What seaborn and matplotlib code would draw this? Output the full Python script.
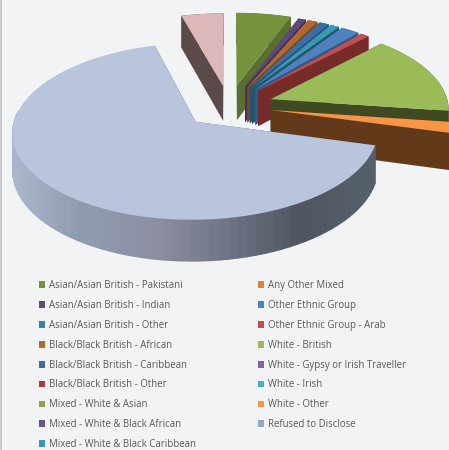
import numpy as np
import matplotlib
matplotlib.use("Agg")
import matplotlib.pyplot as plt
from matplotlib.patches import Patch
import seaborn as sns

# Ethnicity shares (percent) in pie order, clockwise from twelve o'clock
categories = [
    "Asian/Asian British - Pakistani", "Asian/Asian British - Indian",
    "Asian/Asian British - Other", "Black/Black British - African",
    "Black/Black British - Caribbean", "Black/Black British - Other",
    "Mixed - White & Asian", "Mixed - White & Black African",
    "Mixed - White & Black Caribbean", "Any Other Mixed",
    "Other Ethnic Group", "Other Ethnic Group - Arab", "White - British",
    "White - Gypsy or Irish Traveller", "White - Irish", "White - Other",
    "Refused to Disclose",
]
shares = [5.6, 0.8, 0.0, 1.0, 1.0, 0.0, 0.0, 0.0, 0.9, 0.0, 1.9, 0.9,
          15.0, 0.0, 0.0, 2.0, 66.2]
# Final slice has no entry in the key
unlisted_share = 4.3

top_colors = ["#76923C", "#5F497A", "#31849B", "#B3682E", "#3A6EA5", "#A83C3A",
              "#8AA548", "#6C5390", "#3A9AB5", "#E0823A", "#4F81BD", "#C0504D",
              "#9BBB59", "#8064A2", "#4BACC6", "#F79646", "#B8C5DC"]
wall_colors = ["#5A6E30", "#3F3066", "#20606F", "#7F4A20", "#2A5080", "#772C2A",
               "#4F6128", "#403152", "#215968", "#974806", "#2F5A90", "#772C2A",
               "#3F4A22", "#403152", "#215968", "#633A19", "#5A6470"]
key_colors = ["#76923C", "#5F497A", "#31849B", "#B3682E", "#3A6EA5", "#A83C3A",
              "#8AA548", "#6C5390", "#3A9AB5", "#E0823A", "#4F81BD", "#C0504D",
              "#9BBB59", "#8064A2", "#4BACC6", "#F79646", "#95A9D0"]
unlisted_top = "#DDB8B8"
unlisted_wall = "#5B4A4A"
explode = [0.26, 0.25, 0.25, 0.25, 0.25, 0.25, 0.25, 0.25, 0.25, 0.25, 0.25,
           0.25, 0.25, 0.2, 0.2, 0.24, 0.26]
unlisted_explode = 0.25

BACKGROUND = "#F1F3F5"
rim_gradient = ["#ABB7CB", "#8F9BAE", "#8E90A4", "#6F7686", "#4F5560", "#55606C"]

sns.set_theme(style="white", rc={"figure.facecolor": BACKGROUND,
                                 "axes.facecolor": BACKGROUND})
plt.rcParams["font.family"] = ["Open Sans", "DejaVu Sans"]

fig = plt.figure(figsize=(4.49, 4.5), dpi=100)
ax = fig.add_axes([0, 0, 1, 1])
ax.set_xlim(0, 449)
ax.set_ylim(450, 0)
ax.axis("off")
ax.axvspan(0, 2, color="#C8CACC", lw=0)

# Perspective view of the pie plane
ORIGIN_X, ORIGIN_Y = 229, 106
SCALE_X, SCALE_Y = 178, 84
PERSPECTIVE = 0.106
DEPTH = 36


def project(u, v, lowered=False):
    """Map plane coordinates to the canvas, optionally at the pie's underside."""
    w = 1 + PERSPECTIVE * v
    x = ORIGIN_X + SCALE_X * u / w
    y = ORIGIN_Y - SCALE_Y * v / w
    if lowered:
        y = y + DEPTH / w
    return x, y


def draw_slice(start, stop, push, top, wall, layer, rim_colors=None):
    mid = np.radians((start + stop) / 2)
    cu, cv = push * np.sin(mid), push * np.cos(mid)
    angles = np.radians(np.linspace(start, stop, 90))
    u = cu + np.sin(angles)
    v = cv + np.cos(angles)
    ax_top, ay_top = project(cu, cv)
    ax_low, ay_low = project(cu, cv, True)
    x_top, y_top = project(u, v)
    x_low, y_low = project(u, v, True)
    # cut faces
    for i in (0, -1):
        ax.fill([ax_top, x_top[i], x_low[i], ax_low],
                [ay_top, y_top[i], y_low[i], ay_low], color=wall, lw=0, zorder=layer)
    # curved outer wall, shaded strip by strip where it faces the viewer
    if rim_colors is None:
        ax.fill(np.r_[x_top, x_low[::-1]], np.r_[y_top, y_low[::-1]],
                color=wall, lw=0, zorder=layer)
    else:
        for i in range(len(x_top) - 1):
            if np.cos(angles[i]) > 0.1:
                continue
            pos = np.clip((x_top[i] - 10) / 365, 0, 0.999)
            ax.fill([x_top[i], x_top[i + 1], x_low[i + 1], x_low[i]],
                    [y_top[i], y_top[i + 1], y_low[i + 1], y_low[i]],
                    color=rim_colors[int(pos * len(rim_colors))], lw=1.0, zorder=layer)
    ax.fill(np.r_[ax_top, x_top], np.r_[ay_top, y_top], color=top, lw=0, zorder=layer + 0.5)


total = sum(shares) + unlisted_share
edges = np.r_[0, np.cumsum(shares)] / total * 360
# The unlisted slice sits at the back, left of twelve o'clock
draw_slice(edges[-1], 360, unlisted_explode, unlisted_top, unlisted_wall, 2)
gradient = sns.blend_palette(rim_gradient, 180)
for i, share in enumerate(shares):
    if share <= 0:
        continue
    # later slices stand in front of earlier ones
    draw_slice(edges[i], edges[i + 1], explode[i], top_colors[i], wall_colors[i], 3 + i,
               gradient if i == len(shares) - 1 else None)

handles = [Patch(facecolor=c, edgecolor="none", label=n)
           for n, c in zip(categories, key_colors)]
ax.legend(handles=handles, ncol=2, loc="upper left",
          bbox_to_anchor=(39, 280), bbox_transform=ax.transData,
          frameon=False, fontsize=6.95, labelcolor="#595959",
          handlelength=0.62, handleheight=0.7, handletextpad=0.42,
          labelspacing=0.92, columnspacing=6.4, borderpad=0, borderaxespad=0)

fig.savefig("out.png", dpi=100, facecolor=BACKGROUND)
